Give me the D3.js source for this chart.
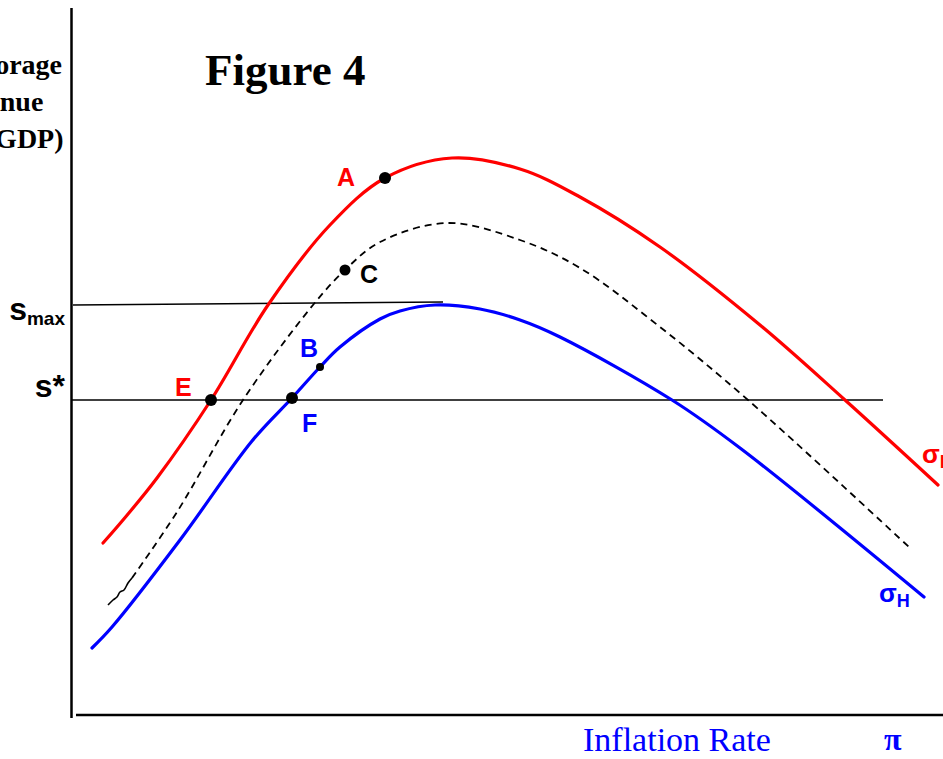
<!DOCTYPE html>
<html>
<head>
<meta charset="utf-8">
<script src="https://cdn.jsdelivr.net/npm/d3@7/dist/d3.min.js"></script>
<style>
  html, body { margin: 0; padding: 0; background: #fff; }
  svg { display: block; }
</style>
</head>
<body>
<svg id="chart" width="943" height="759"></svg>
<script>
// ---- data (inflation rate x, seigniorage revenue y; chart units) ----
const sigmaL = [[31,172],[51,195],[85,237],[139,315],[196,410],[258,490],[313,537],[380,557],[448,546],[508,518],[588,468],[688,390],[773,315],[866,230]];
const sigmaMidStart = [[36,110],[41,115],[45,118],[48,123],[52,125],[56,132],[60,137]];
const sigmaMid = [[60,137],[105,203],[171,315],[241,410],[273,445],[308,473],[375,492],[448,475],[508,447],[588,388],[676,315],[838,167]];
const sigmaH = [[20,67],[40,88],[108,175],[180,274],[220,317],[248,348],[268,368],[308,396],[328,404],[363,410],[408,406],[448,395],[488,378],[600,315],[668,267],[852,118]];
const sMaxLine = [[1,410],[371,413]];
const sStarLine = [[0,315],[811,315]];
const points = [
  {name:"A", x:313, y:537, r:6,   color:"#ff0000", dx:-48, dy:8},
  {name:"C", x:273, y:445, r:5.5, color:"#000000", dx:15,  dy:13},
  {name:"B", x:248, y:348, r:4,   color:"#0000ff", dx:-20, dy:-10},
  {name:"E", x:139, y:315, r:6,   color:"#ff0000", dx:-36, dy:-4},
  {name:"F", x:220, y:317, r:6,   color:"#0000ff", dx:10,  dy:34}
];
const yTickLabels = [{base:"s", sub:"max", y:410}, {base:"s*", sub:"", y:315}];
const yTitle = ["Seigniorage", "Revenue", "(% of GDP)"];
const xTitle = "Inflation Rate";
const xSymbol = "π";
const title = "Figure 4";
const curveLabels = [
  {base:"σ", sub:"L", color:"#ff0000", x:850, y:252},
  {base:"σ", sub:"H", color:"#0000ff", x:807, y:113}
];

// ---- scales ----
const svg = d3.select("#chart");
const x = d3.scaleLinear().domain([0, 871]).range([72, 943]);
const y = d3.scaleLinear().domain([0, 705]).range([715, 10]);

const line = d3.line().x(d => x(d[0])).y(d => y(d[1])).curve(d3.curveCatmullRom.alpha(0.5));
const straight = d3.line().x(d => x(d[0])).y(d => y(d[1]));

// axes
svg.append("line").attr("x1", x(0) - 0.5).attr("x2", x(0) - 0.5).attr("y1", 8).attr("y2", 718)
  .attr("stroke", "#000").attr("stroke-width", 2.5);
svg.append("line").attr("x1", 76).attr("x2", 943).attr("y1", y(0)).attr("y2", y(0))
  .attr("stroke", "#000").attr("stroke-width", 2.5);

// horizontal reference lines
svg.append("path").attr("d", straight(sMaxLine)).attr("stroke", "#000").attr("stroke-width", 1.5).attr("fill", "none");
svg.append("path").attr("d", straight(sStarLine)).attr("stroke", "#000").attr("stroke-width", 1.5).attr("fill", "none");

// curves
svg.append("path").attr("d", line(sigmaL)).attr("stroke", "#ff0000").attr("stroke-width", 3.2).attr("fill", "none").attr("stroke-linecap", "round");
svg.append("path").attr("d", line(sigmaMidStart)).attr("stroke", "#000").attr("stroke-width", 1.6).attr("fill", "none");
svg.append("path").attr("d", line(sigmaMid)).attr("stroke", "#000").attr("stroke-width", 1.8).attr("fill", "none").attr("stroke-dasharray", "7,5");
svg.append("path").attr("d", line(sigmaH)).attr("stroke", "#0000ff").attr("stroke-width", 3.2).attr("fill", "none").attr("stroke-linecap", "round");

// points and labels
svg.selectAll("circle.pt").data(points).enter().append("circle")
  .attr("cx", d => x(d.x)).attr("cy", d => y(d.y)).attr("r", d => d.r).attr("fill", "#000");
svg.selectAll("text.pt").data(points).enter().append("text")
  .attr("x", d => x(d.x) + d.dx).attr("y", d => y(d.y) + d.dy)
  .attr("fill", d => d.color)
  .attr("font-family", "Liberation Sans, Arial, sans-serif").attr("font-weight", "bold").attr("font-size", 25)
  .text(d => d.name);

// y tick labels
yTickLabels.forEach(t => {
  const tx = svg.append("text")
    .attr("text-anchor", "end")
    .attr("x", 65)
    .attr("y", y(t.y) + (t.sub ? 15 : -3))
    .attr("font-family", "Liberation Sans, Arial, sans-serif").attr("font-weight", "bold").attr("font-size", 32);
  tx.append("tspan").text(t.base);
  if (t.sub) tx.append("tspan").attr("font-size", 19).attr("dy", 5).text(t.sub);
});

// curve labels
curveLabels.forEach(c => {
  const t = svg.append("text").attr("x", x(c.x)).attr("y", y(c.y))
    .attr("fill", c.color)
    .attr("font-family", "Liberation Sans, Arial, sans-serif").attr("font-weight", "bold").attr("font-size", 26);
  t.append("tspan").text(c.base);
  t.append("tspan").attr("font-size", 18).attr("dy", 5).text(c.sub);
});

// y title (centred block, partly off the left edge as in the original)
svg.append("g").selectAll("text").data(yTitle).enter().append("text")
  .attr("x", -8).attr("y", (d, i) => 74 + i * 37)
  .attr("text-anchor", "middle")
  .attr("font-family", "Liberation Serif, Times New Roman, serif").attr("font-weight", "bold").attr("font-size", 28)
  .text(d => d);

// title
svg.append("text").attr("x", 205).attr("y", 85)
  .attr("font-family", "Liberation Serif, Times New Roman, serif").attr("font-weight", "bold").attr("font-size", 45)
  .text(title);

// x title
svg.append("text").attr("x", 583).attr("y", 751)
  .attr("fill", "#0000ff")
  .attr("font-family", "Liberation Serif, Times New Roman, serif").attr("font-size", 34)
  .text(xTitle);
svg.append("text").attr("x", 884).attr("y", 750)
  .attr("fill", "#0000ff")
  .attr("font-family", "Liberation Serif, Times New Roman, serif").attr("font-weight", "bold").attr("font-size", 32)
  .text(xSymbol);
</script>
</body>
</html>
